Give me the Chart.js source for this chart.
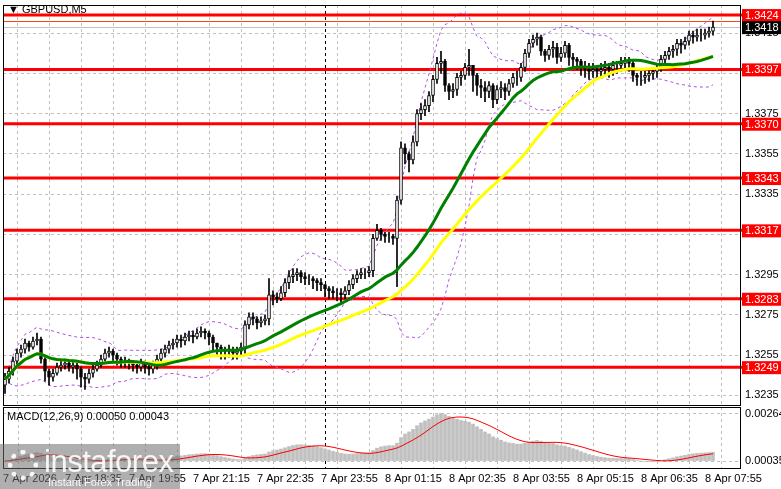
<!DOCTYPE html>
<html>
<head>
<meta charset="utf-8">
<script src="https://cdn.jsdelivr.net/npm/chart.js@4"></script>
<style>
  body { margin: 0; background: #fff; width: 781px; height: 489px; overflow: hidden; position: relative; font-family: "Liberation Sans", Arial, sans-serif; }
  #main { position: absolute; left: 0; top: 0; }
  #macd { position: absolute; left: 0; top: 406px; }
  .title { position: absolute; left: 8px; top: 3px; font-size: 11px; color: #000; }
  .mtitle { position: absolute; left: 7px; top: 410px; font-size: 11px; color: #000; }
  .logo { position: absolute; left: 0; top: 444px; width: 180px; height: 45px; background: rgba(110,110,110,0.55); color: rgba(255,255,255,0.9); }
  .logo .big { position: absolute; left: 44px; top: 0px; font-size: 31px; letter-spacing: -0.5px; }
  .logo .small { position: absolute; left: 48px; top: 32px; font-size: 11px; }
  .logo .mark { position: absolute; left: 8px; top: 6px; width: 30px; height: 30px; border-radius: 50%; border: 5px dotted rgba(255,255,255,0.9); box-sizing: border-box; }
</style>
</head>
<body>
<canvas id="main" width="781" height="406"></canvas>
<canvas id="macd" width="781" height="83"></canvas>
<div class="title">&#9660; GBPUSD,M5</div>
<div class="mtitle">MACD(12,26,9) 0.00050 0.00043</div>
<div class="logo"><div class="mark"></div><div class="big">instaforex</div><div class="small">Instant Forex Trading</div></div>
<script>
// --- Data (price in pips above 1.3000, M5 candles from 7 Apr 17:20) -----------------------------
const firstOpen = 240
const closes = [
  243,247,252,256,258,261,259,262,263,253, 247,244,246,249,250,251,249,250,248,244,
  243,246,248,250,253,256,257,255,253,252, 252,251,250,249,251,249,248,250,253,256,
  258,260,261,263,262,264,265,264,266,267, 266,264,261,259,258,257,258,256,257,259,
  270,274,273,271,272,273,285,284,283,286, 291,294,295,296,294,293,293,292,291,290,
  288,287,286,286,285,287,290,293,295,296, 296,297,313,317,315,314,314,313,332,358,
  355,352,361,375,377,379,384,392,400,401, 389,386,387,393,394,398,399,394,389,388,
  386,389,382,387,388,386,390,393,393,398, 405,410,412,413,406,404,407,408,403,405,
  409,403,402,401,398,397,396,397,396,397, 398,397,399,399,400,401,400,394,393,393,
  394,395,396,398,402,404,406,407,410,409, 411,414,413,414,414,415,416,418
]
const highs = [
  246,249,254,258,260,263,262,264,266,264, 254,248,248,251,252,253,252,252,251,249,
  246,248,250,252,255,258,259,258,256,254, 254,253,252,252,253,252,251,252,255,258,
  260,262,263,265,265,266,267,267,268,269, 268,267,265,261,260,259,260,259,259,261,
  272,276,276,274,274,275,293,287,286,289, 293,297,298,298,297,296,295,294,293,293,
  290,289,289,288,288,289,292,295,297,298, 298,299,315,320,318,316,316,315,334,361,
  360,356,364,377,380,382,386,394,403,406, 402,390,390,395,396,400,407,399,395,392,
  391,391,390,389,391,390,392,395,396,400, 407,412,414,415,414,407,409,411,410,408,
  411,410,405,403,402,401,400,400,399,400, 401,400,401,401,403,403,403,401,395,396,
  396,397,398,400,404,406,408,409,412,412, 413,416,416,417,417,417,418,421
]
const lows = [
  236,241,245,250,254,256,257,258,260,251, 242,240,242,245,247,248,247,246,243,239,
  238,241,244,247,249,252,254,252,250,249, 249,248,247,246,247,246,245,246,248,252,
  254,256,258,259,259,260,262,261,263,264, 263,260,257,255,253,253,254,253,253,255,
  256,268,270,268,269,270,270,280,281,282, 284,288,291,292,291,290,290,288,287,287,
  284,283,283,282,281,283,285,288,291,293, 293,294,294,312,312,311,311,310,289,330,
  350,346,350,359,372,374,376,381,390,395, 386,382,383,384,389,392,394,386,384,383,
  381,383,378,380,383,382,384,388,389,391, 396,403,408,409,404,401,402,403,400,401,
  403,399,398,397,394,393,392,393,392,393, 394,393,394,395,396,397,396,391,389,389,
  390,391,392,393,396,400,402,403,404,405, 407,409,410,411,411,412,413,414
]
const levels = [1.3424, 1.3397, 1.3370, 1.3343, 1.3317, 1.3283, 1.3249]
const bidPrice = 1.3418
const askPrice = 1.34212
const priceTicks = [1.3415, 1.3395, 1.3375, 1.3355, 1.3335, 1.3315, 1.3295, 1.3275, 1.3255, 1.3235]
const timeLabels = ['7 Apr 2026', '7 Apr 18:35', '7 Apr 19:55', '7 Apr 21:15', '7 Apr 22:35', '7 Apr 23:55',
  '8 Apr 01:15', '8 Apr 02:35', '8 Apr 03:55', '8 Apr 05:15', '8 Apr 06:35', '8 Apr 07:55']
const timeLabelIdx = [-0.5, 15, 31, 47, 63, 79, 95, 111, 127, 143, 159, 175]
const daySeparator = 80

// --- Helpers -----------------------------------------------------------------------------------------
const px = v => 1.3 + v / 10000
const C = closes.map(px)
const O = closes.map((c, i) => px(i === 0 ? firstOpen : closes[i - 1]))
const H = highs.map(px)
const L = lows.map(px)

function sma(src, n) {
  return src.map((_, i) => {
    const s = src.slice(Math.max(0, i - n + 1), i + 1)
    return s.reduce((a, b) => a + b, 0) / s.length
  })
}
function ema(src, n) {
  const k = 2 / (n + 1)
  const out = []
  src.forEach((v, i) => out.push(i === 0 ? v : v * k + out[i - 1] * (1 - k)))
  return out
}
function bands(src, n, d) {
  const up = [], lo = []
  src.forEach((_, i) => {
    const s = src.slice(Math.max(0, i - n + 1), i + 1)
    const m = s.reduce((a, b) => a + b, 0) / s.length
    const sd = Math.sqrt(s.reduce((a, b) => a + (b - m) * (b - m), 0) / s.length)
    up.push(m + d * sd); lo.push(m - d * sd)
  })
  return { up, lo }
}

const ma30 = sma(C, 30)
const ma50 = sma(C, 50)
const bb = bands(C, 20, 2)
const ema12 = ema(C, 12), ema26 = ema(C, 26)
const macdLine = ema12.map((v, i) => v - ema26[i])
const signal = sma(macdLine, 9)

const xy = arr => arr.map((v, i) => ({ x: i, y: v }))
const gridTicks = []
for (let i = 7; i < 184; i += 8) gridTicks.push(i)

const dashedGrid = { color: '#c0c0c0', lineWidth: 1, tickLength: 0, drawTicks: false }
const font = { family: '"Liberation Sans", Arial, sans-serif', size: 11 }
// Chart.js pads axes for half-labels; the terminal chart does not
const noPad = s => { s.paddingTop = 0; s.paddingBottom = 0; s.paddingLeft = 0; s.paddingRight = 0 }

// --- Overlay plugin: frame, levels, labels ----------------------------------------------------------
const overlay = {
  id: 'overlay',
  beforeDatasetsDraw(chart) {
    const { ctx, chartArea: a, scales } = chart
    ctx.save()
    ctx.setLineDash([3, 3])
    ctx.strokeStyle = '#000'
    ctx.lineWidth = 1
    const sx = Math.round(scales.x.getPixelForValue(daySeparator)) + 0.5
    ctx.beginPath(); ctx.moveTo(sx, a.top); ctx.lineTo(sx, a.bottom); ctx.stroke()
    ctx.restore()
    if (chart.canvas.id !== 'main') return
    const y = scales.y
    ctx.save()
    ctx.strokeStyle = '#ff0000'; ctx.lineWidth = 3
    levels.forEach(l => {
      const py = y.getPixelForValue(l)
      ctx.beginPath(); ctx.moveTo(a.left, py); ctx.lineTo(781, py); ctx.stroke()
    })
    ctx.lineWidth = 1
    ctx.strokeStyle = '#ff4500'
    let py = Math.round(y.getPixelForValue(askPrice)) + 0.5
    ctx.beginPath(); ctx.moveTo(a.left, py); ctx.lineTo(a.right, py); ctx.stroke()
    ctx.strokeStyle = '#c0c0c0'
    py = Math.round(y.getPixelForValue(bidPrice)) + 0.5
    ctx.beginPath(); ctx.moveTo(a.left, py); ctx.lineTo(a.right, py); ctx.stroke()
    ctx.restore()
  },
  afterDraw(chart) {
    const { ctx, chartArea: a, scales } = chart
    ctx.save()
    ctx.strokeStyle = '#000'; ctx.lineWidth = 1
    ctx.strokeRect(a.left + 0.5, a.top + 0.5, a.right - a.left, a.bottom - a.top)
    if (chart.canvas.id === 'main') {
      ctx.font = '11px "Liberation Sans", Arial, sans-serif'
      ctx.textBaseline = 'middle'
      levels.forEach(l => {
        const py = scales.y.getPixelForValue(l)
        ctx.fillStyle = '#ff0000'; ctx.fillRect(a.right + 2, py - 6, 40, 13)
        ctx.fillStyle = '#fff'; ctx.fillText(l.toFixed(4), a.right + 5, py + 1)
      })
      const py = scales.y.getPixelForValue(bidPrice)
      ctx.fillStyle = '#000'; ctx.fillRect(a.right + 2, py - 6, 40, 13)
      ctx.fillStyle = '#fff'; ctx.fillText(bidPrice.toFixed(4), a.right + 5, py + 1)
    }
    ctx.restore()
  }
}

// --- Main price chart ------------------------------------------------------------------------------------
new Chart(document.getElementById('main'), {
  type: 'bar',
  data: {
    datasets: [
      { type: 'line', data: xy(ma30), borderColor: '#008000', borderWidth: 3, pointRadius: 0, order: 0 },
      { type: 'line', data: xy(ma50), borderColor: '#ffff00', borderWidth: 3, pointRadius: 0, order: 0.5 },
      { data: C.map((c, i) => ({ x: i, y: [O[i], c] })), barThickness: 3, grouped: false,
        backgroundColor: C.map((c, i) => c >= O[i] ? '#fff' : '#000'), borderColor: '#000', borderWidth: 1,
        borderSkipped: false, order: 1 },
      { data: C.map((c, i) => ({ x: i, y: [L[i], H[i]] })), barThickness: 1, grouped: false,
        backgroundColor: '#000', order: 2 },
      { type: 'line', data: xy(bb.up), borderColor: '#b050e0', borderWidth: 1, borderDash: [3, 3], pointRadius: 0, order: 3 },
      { type: 'line', data: xy(bb.lo), borderColor: '#b050e0', borderWidth: 1, borderDash: [3, 3], pointRadius: 0, order: 3 }
    ]
  },
  options: {
    animation: false, responsive: false, events: [],
    layout: { padding: { left: 3, top: 5, bottom: 1, right: 0 } },
    plugins: { legend: { display: false }, tooltip: { enabled: false } },
    scales: {
      x: { type: 'linear', min: -0.5, max: 183.75, offset: false, display: true,
        grid: { ...dashedGrid }, border: { display: false, dash: [3, 3] },
        ticks: { display: false },
        afterBuildTicks: s => { s.ticks = gridTicks.map(v => ({ value: v })) },
        afterFit: s => { s.height = 0; noPad(s) } },
      y: { position: 'right', min: 1.32302, max: 1.34290,
        grid: { ...dashedGrid }, border: { display: false, dash: [3, 3] },
        ticks: { font, color: '#000', padding: 5, callback: v => v.toFixed(4) },
        afterBuildTicks: s => { s.ticks = priceTicks.map(v => ({ value: v })) },
        afterFit: s => { s.width = 41; noPad(s) } }
    }
  },
  plugins: [overlay]
})

// --- MACD panel -------------------------------------------------------------------------------------------
new Chart(document.getElementById('macd'), {
  type: 'bar',
  data: {
    datasets: [
      { type: 'line', data: xy(signal), borderColor: '#ff0000', borderWidth: 1, pointRadius: 0, order: 0 },
      { data: xy(macdLine), barThickness: 3, backgroundColor: '#c0c0c0', order: 1 }
    ]
  },
  options: {
    animation: false, responsive: false, events: [],
    layout: { padding: { left: 3, top: 1, bottom: 0, right: 0 } },
    plugins: { legend: { display: false }, tooltip: { enabled: false } },
    scales: {
      x: { type: 'linear', min: -0.5, max: 183.75, offset: false,
        grid: { ...dashedGrid }, border: { display: false, dash: [3, 3] },
        ticks: { font, color: '#000', align: 'start', maxRotation: 0, autoSkip: false, padding: 4,
          callback: v => { const k = timeLabelIdx.indexOf(v); return k >= 0 ? timeLabels[k] : '' } },
        afterBuildTicks: s => { s.ticks = [...new Set([-0.5, ...gridTicks])].sort((a, b) => a - b).map(v => ({ value: v })) },
        afterFit: s => { s.height = 21; noPad(s) } },
      y: { position: 'right', min: -0.00039, max: 0.00303,
        grid: { ...dashedGrid }, border: { display: false, dash: [3, 3] },
        ticks: { font, color: '#000', padding: 5, callback: v => v === 0 ? '0.00035' : v.toFixed(5) },
        afterBuildTicks: s => { s.ticks = [{ value: 0 }, { value: 0.00264 }] },
        afterFit: s => { s.width = 41; noPad(s) } }
    }
  },
  plugins: [overlay]
})
</script>
</body>
</html>
